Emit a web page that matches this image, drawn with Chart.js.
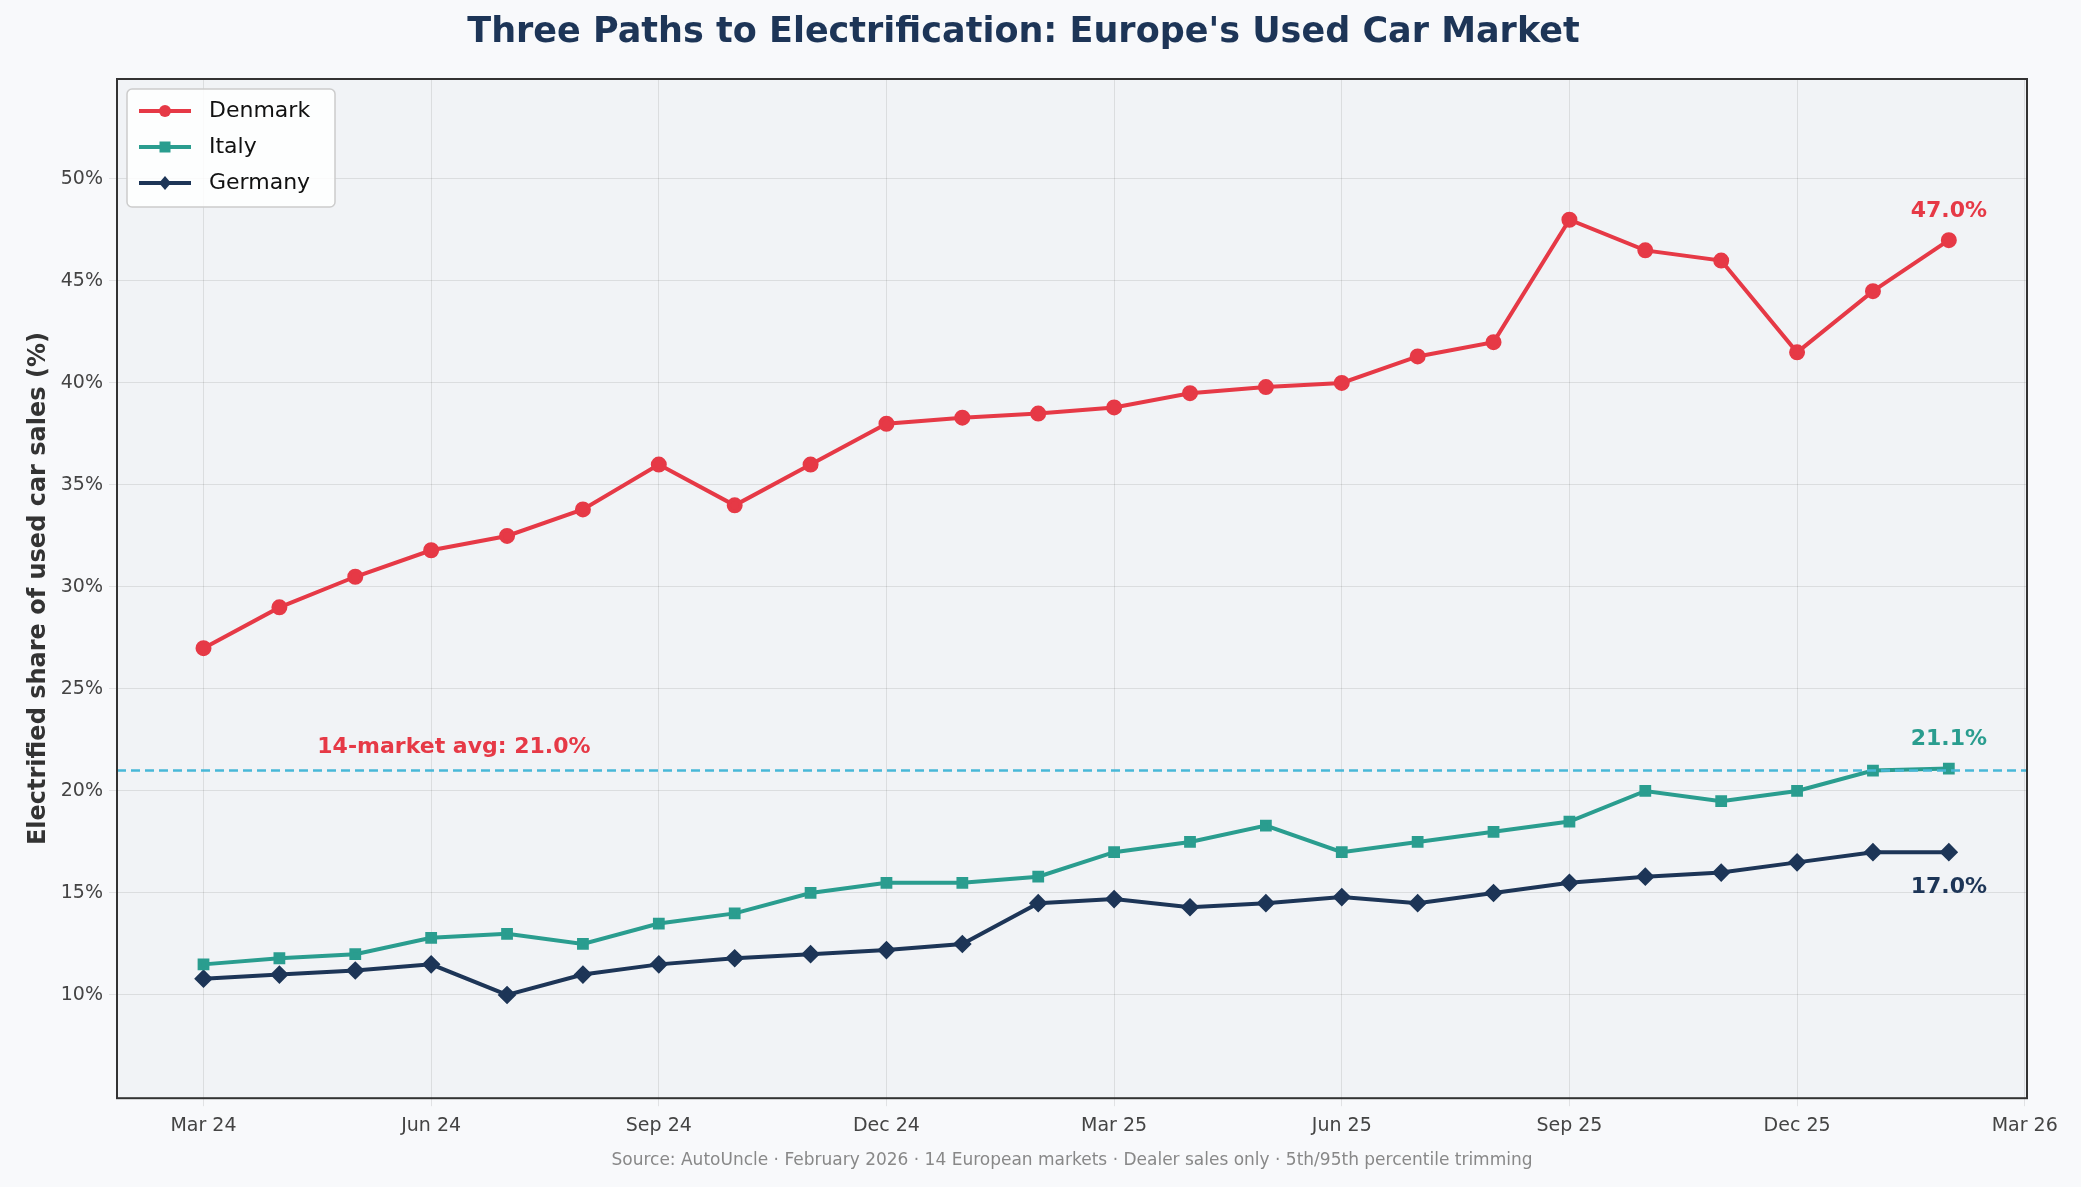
<!DOCTYPE html>
<html>
<head>
<meta charset="utf-8">
<script src="https://cdn.jsdelivr.net/npm/chart.js@4/dist/chart.umd.min.js"></script>
<style>
  html, body { margin: 0; padding: 0; background: #f8f9fb; overflow: hidden; }
  #wrap { width: 2081px; height: 1187px; position: relative; }
</style>
</head>
<body>
<div id="wrap"><canvas id="chart" width="2081" height="1187"></canvas></div>
<script>
const months = ["Mar 24","Apr 24","May 24","Jun 24","Jul 24","Aug 24","Sep 24","Oct 24","Nov 24","Dec 24","Jan 25","Feb 25",
  "Mar 25","Apr 25","May 25","Jun 25","Jul 25","Aug 25","Sep 25","Oct 25","Nov 25","Dec 25","Jan 26","Feb 26","Mar 26"];
const denmark = [27, 29, 30.5, 31.8, 32.5, 33.8, 36, 34, 36, 38, 38.3, 38.5, 38.8, 39.5, 39.8, 40, 41.3, 42, 48, 46.5, 46, 41.5, 44.5, 47];
const italy = [11.5, 11.8, 12, 12.8, 13, 12.5, 13.5, 14, 15, 15.5, 15.5, 15.8, 17, 17.5, 18.3, 17, 17.5, 18, 18.5, 20, 19.5, 20, 21, 21.1];
const germany = [10.8, 11, 11.2, 11.5, 10, 11, 11.5, 11.8, 12, 12.2, 12.5, 14.5, 14.7, 14.3, 14.5, 14.8, 14.5, 15, 15.5, 15.8, 16, 16.5, 17, 17];
const avg = 21.0;

const RED = "#e63946", TEAL = "#2a9d8f", NAVY = "#1d3557", CYAN = "#48b8d8";
const pts = arr => arr.map((v, i) => ({ x: i, y: v }));

const decor = {
  id: "decor",
  beforeDraw(c) {
    const { ctx, chartArea: a } = c;
    ctx.save();
    ctx.fillStyle = "#f8f9fb";
    ctx.fillRect(0, 0, c.width, c.height);
    ctx.fillStyle = "#f1f3f6";
    ctx.fillRect(a.left, a.top, a.right - a.left, a.bottom - a.top);
    ctx.restore();
  },
  afterDatasetsDraw(c) {
    const { ctx, chartArea: a, scales: { x, y } } = c;
    ctx.save();
    const yy = y.getPixelForValue(avg);
    ctx.strokeStyle = CYAN; ctx.lineWidth = 2.5; ctx.setLineDash([9, 5]);
    ctx.beginPath(); ctx.moveTo(a.left, yy); ctx.lineTo(a.right, yy); ctx.stroke();
    ctx.setLineDash([]);
    ctx.font = "bold 22px 'DejaVu Sans'";
    ctx.textAlign = "center"; ctx.textBaseline = "bottom";
    ctx.fillStyle = RED;
    ctx.fillText("14-market avg: 21.0%", x.getPixelForValue(3.3), yy - 12);
    const last = denmark.length - 1;
    ctx.fillText(denmark[last].toFixed(1) + "%", x.getPixelForValue(last), y.getPixelForValue(denmark[last]) - 18);
    ctx.fillStyle = TEAL;
    ctx.fillText(italy[last].toFixed(1) + "%", x.getPixelForValue(last), y.getPixelForValue(italy[last]) - 18);
    ctx.fillStyle = NAVY; ctx.textBaseline = "top";
    ctx.fillText(germany[last].toFixed(1) + "%", x.getPixelForValue(last), y.getPixelForValue(germany[last]) + 24);
    ctx.strokeStyle = "#333"; ctx.lineWidth = 2;
    ctx.strokeRect(a.left, a.top, a.right - a.left, a.bottom - a.top);
    ctx.restore();
  }
};

const ds = (label, data, color, shape, r) => ({
  label, data: pts(data), borderColor: color, backgroundColor: color,
  borderWidth: 4, pointStyle: shape, pointRadius: r, pointHoverRadius: r, tension: 0
});

new Chart(document.getElementById("chart"), {
  type: "line",
  data: {
    datasets: [
      ds("Denmark", denmark, RED, "circle", 6),
      ds("Italy", italy, TEAL, "rect", 5.5),
      ds("Germany", germany, NAVY, "rectRot", 6.5)
    ]
  },
  options: {
    responsive: false, animation: false, devicePixelRatio: 1,
    layout: { padding: { left: 20, right: 54, top: 0, bottom: 42 } },
    plugins: {
      title: { display: true, text: "Three Paths to Electrification: Europe's Used Car Market",
        color: NAVY, font: { family: "DejaVu Sans", size: 35, weight: "bold" }, padding: { top: 12, bottom: 25 } },
      legend: { display: false },
      tooltip: { enabled: false }
    },
    scales: {
      x: {
        type: "linear", min: -1.14, max: 24.03,
        afterBuildTicks: s => { s.ticks = [0, 3, 6, 9, 12, 15, 18, 21, 24].map(v => ({ value: v })); },
        ticks: { callback: v => months[v], color: "#444", font: { family: "DejaVu Sans", size: 19 }, padding: 8, maxRotation: 0 },
        grid: { color: "rgba(0,0,0,0.09)", drawTicks: true, tickLength: 8 },
        border: { display: false }
      },
      y: {
        min: 4.94, max: 54.9,
        afterBuildTicks: s => { s.ticks = [10, 15, 20, 25, 30, 35, 40, 45, 50].map(v => ({ value: v })); },
        afterFit: s => { s.width = 97; },
        ticks: { callback: v => v + "%", color: "#444", font: { family: "DejaVu Sans", size: 19 }, padding: 6 },
        title: { display: true, text: "Electrified share of used car sales (%)", color: "#333",
          font: { family: "DejaVu Sans", size: 24, weight: "bold" }, padding: 4 },
        grid: { color: "rgba(0,0,0,0.09)", tickLength: 8 },
        border: { display: false }
      }
    }
  },
  plugins: [decor, {
    id: "legendBox",
    afterDraw(c) {
      const { ctx, chartArea: a } = c;
      const items = [["Denmark", RED, "circle"], ["Italy", TEAL, "rect"], ["Germany", NAVY, "diamond"]];
      const bx = a.left + 10, by = a.top + 10, bw = 208, bh = 118;
      ctx.save();
      ctx.fillStyle = "rgba(255,255,255,0.85)"; ctx.strokeStyle = "#ccc"; ctx.lineWidth = 1.5;
      ctx.beginPath(); ctx.roundRect(bx, by, bw, bh, 5); ctx.fill(); ctx.stroke();
      ctx.font = "22px 'DejaVu Sans'"; ctx.textBaseline = "middle"; ctx.textAlign = "left";
      items.forEach(([t, col, sh], i) => {
        const yy = by + 22 + i * 36;
        ctx.strokeStyle = col; ctx.fillStyle = col; ctx.lineWidth = 4;
        ctx.beginPath(); ctx.moveTo(bx + 12, yy); ctx.lineTo(bx + 64, yy); ctx.stroke();
        const cx = bx + 38;
        ctx.beginPath();
        if (sh === "circle") ctx.arc(cx, yy, 6, 0, Math.PI * 2);
        else if (sh === "rect") ctx.rect(cx - 5.5, yy - 5.5, 11, 11);
        else { ctx.moveTo(cx, yy - 7); ctx.lineTo(cx + 6, yy); ctx.lineTo(cx, yy + 7); ctx.lineTo(cx - 6, yy); ctx.closePath(); }
        ctx.fill();
        ctx.fillStyle = "#111"; ctx.fillText(t, bx + 82, yy);
      });
      ctx.fillStyle = "#888"; ctx.font = "17px 'DejaVu Sans'"; ctx.textAlign = "center";
      ctx.fillText("Source: AutoUncle · February 2026 · 14 European markets · Dealer sales only · 5th/95th percentile trimming",
        (a.left + a.right) / 2, c.height - 26);
      ctx.restore();
    }
  }]
});
</script>
</body>
</html>
